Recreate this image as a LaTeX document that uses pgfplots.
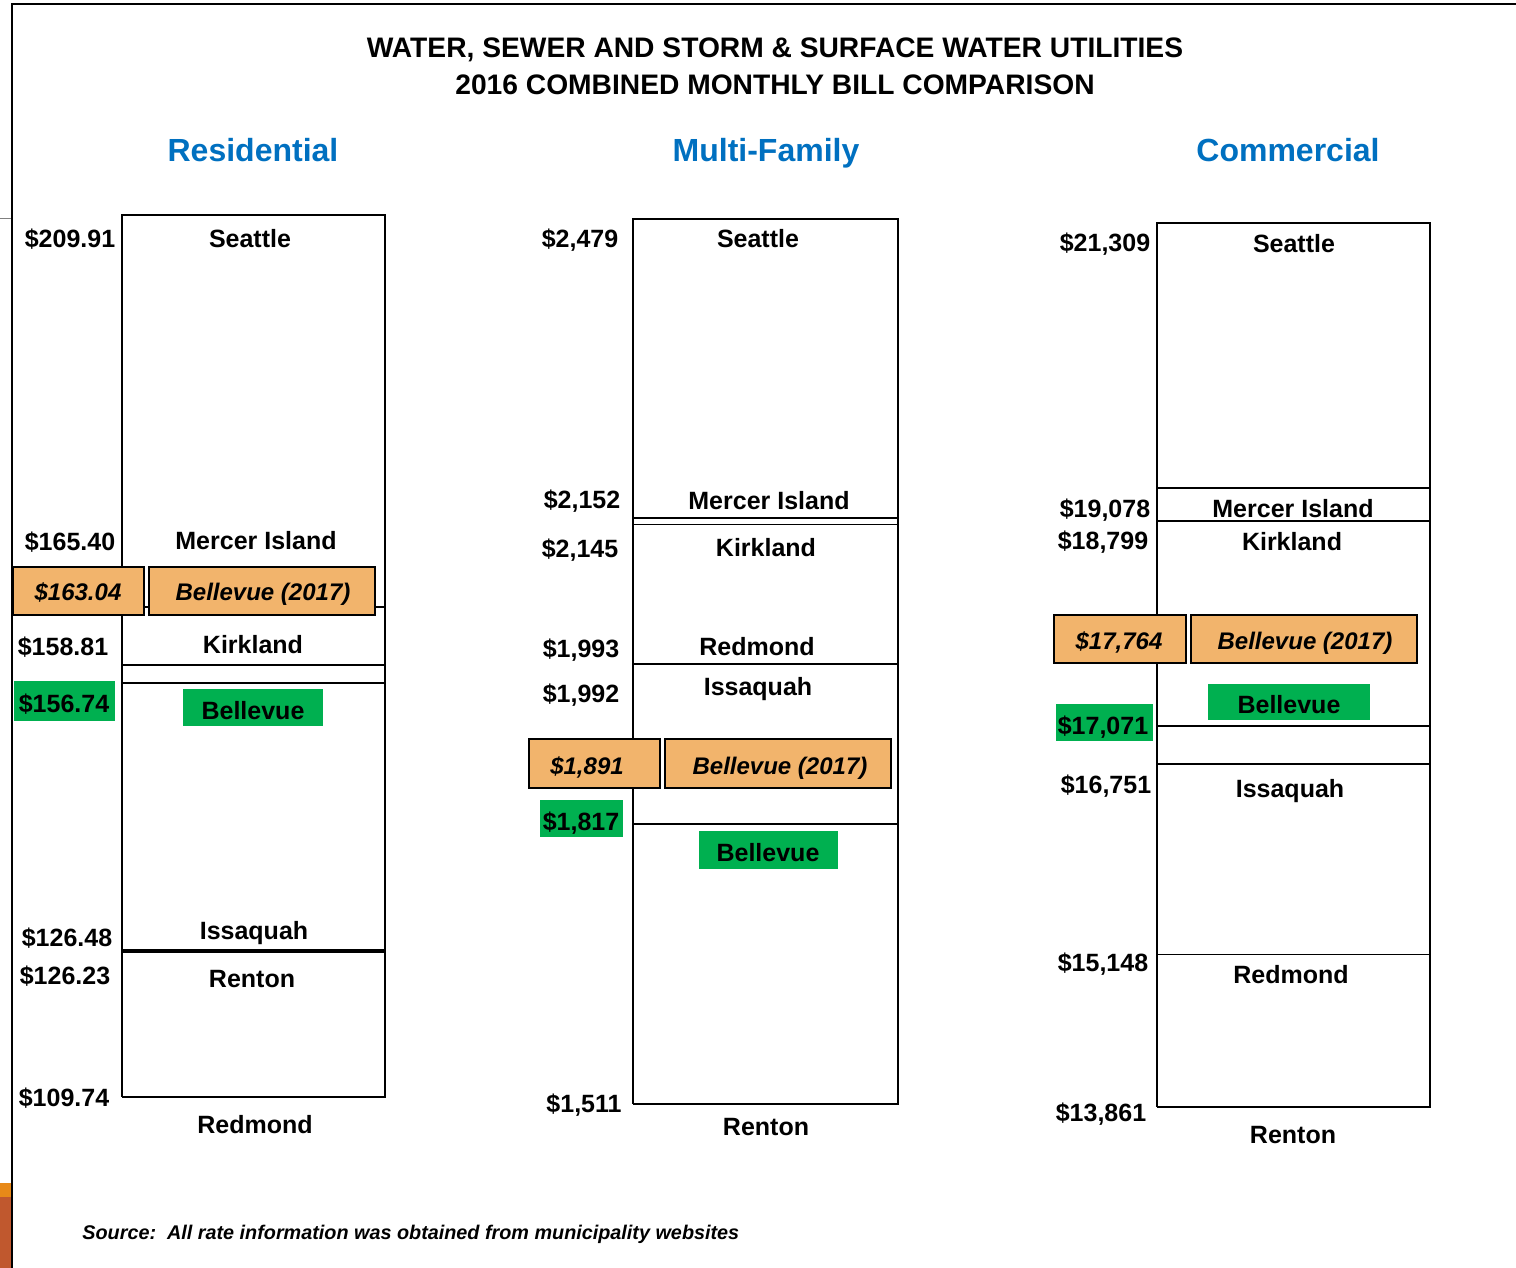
\documentclass[border=0pt]{standalone}
\usepackage{pgfplots}
\pgfplotsset{compat=1.18}
\usepackage{fontspec}
\setmainfont{Liberation Sans}
\definecolor{tblue}{RGB}{0,112,192}
\definecolor{torange}{RGB}{242,180,108}
\definecolor{tgreen}{RGB}{0,176,80}
\definecolor{sorange}{RGB}{232,137,24}
\definecolor{sbrown}{RGB}{192,88,46}
\pgfplotsset{colbox/.style={scale only axis, hide axis, clip=false, xmin=0, xmax=1, anchor=north west},
  bx/.style={black, line width=0.75pt, mark=none}}
\begin{document}
\begin{tikzpicture}[x=0.5pt,y=-0.5pt,
  lab/.style={font=\fontsize{12.5}{14}\selectfont\bfseries, inner sep=0pt, text height=0.716em, text depth=0pt, yshift=-1pt},
  olab/.style={font=\fontsize{12}{14}\selectfont\bfseries\itshape, inner sep=0pt, text height=0.716em, text depth=0pt, yshift=-1pt},
  ttl/.style={font=\fontsize{14.1}{16}\selectfont\bfseries, inner sep=0pt, text height=0.716em, text depth=0pt, yshift=-1.5pt},
  sub/.style={font=\fontsize{16}{18}\selectfont\bfseries, text=tblue, inner sep=0pt, text height=0.716em, text depth=0pt, yshift=-2pt},
  obox/.style={fill=torange, draw=black, line width=0.9pt},
  gbox/.style={fill=tgreen}]
\path[use as bounding box] (0,0) rectangle (1516,1268);
% slide frame artefacts
\fill[sorange] (0,1183) rectangle (12,1197);
\fill[sbrown] (0,1197) rectangle (12,1268);
\draw[gray, line width=0.4pt] (0,218) -- (13,218);
\draw[black, line width=1pt] (12,1268) -- (12,4) -- (1516,4);

% titles
\node[ttl] at (775,47) {WATER, SEWER AND STORM \& SURFACE WATER UTILITIES};
\node[ttl] at (775,84) {2016 COMBINED MONTHLY BILL COMPARISON};
\node[sub] at (253,150) {Residential};
\node[sub] at (766,150) {Multi-Family};
\node[sub] at (1288,150) {Commercial};

% Residential
\begin{axis}[colbox, at={(61pt,-107.5pt)}, width=131.5pt, height=441pt, ymin=109.74, ymax=209.91]
\addplot[bx] coordinates {(0,109.74) (1,109.74) (1,209.91) (0,209.91) (0,109.74)};
\addplot[bx] coordinates {(0,165.40) (1,165.40)};
\addplot[bx] coordinates {(0,158.81) (1,158.81)};
\addplot[bx] coordinates {(0,156.74) (1,156.74)};
\addplot[bx, line width=1.1pt] coordinates {(0,126.48) (1,126.48)};
\addplot[bx, line width=1.1pt] coordinates {(0,126.23) (1,126.23)};
\end{axis}
% Multi-Family
\begin{axis}[colbox, at={(316.5pt,-109.5pt)}, width=132.5pt, height=442.5pt, ymin=1511, ymax=2479]
\addplot[bx] coordinates {(0,1511) (1,1511) (1,2479) (0,2479) (0,1511)};
\addplot[bx] coordinates {(0,2152) (1,2152)};
\addplot[bx] coordinates {(0,2145) (1,2145)};
\addplot[bx] coordinates {(0,1993) (1,1993)};
\addplot[bx] coordinates {(0,1992) (1,1992)};
\addplot[bx] coordinates {(0,1817) (1,1817)};
\end{axis}
% Commercial
\begin{axis}[colbox, at={(578.5pt,-111.5pt)}, width=136.5pt, height=442pt, ymin=13861, ymax=21309]
\addplot[bx] coordinates {(0,13861) (1,13861) (1,21309) (0,21309) (0,13861)};
\addplot[bx] coordinates {(0,19078) (1,19078)};
\addplot[bx] coordinates {(0,18799) (1,18799)};
\addplot[bx] coordinates {(0,17071) (1,17071)};
\addplot[bx] coordinates {(0,16751) (1,16751)};
\addplot[bx] coordinates {(0,15148) (1,15148)};
\end{axis}

% Residential labels
\node[lab] at (70,238) {\$209.91};
\node[lab] at (70,541) {\$165.40};
\node[lab] at (63,646) {\$158.81};
\node[lab] at (67,937) {\$126.48};
\node[lab] at (65,975) {\$126.23};
\node[lab] at (64,1097) {\$109.74};
\node[lab] at (250,238) {Seattle};
\node[lab] at (256,540) {Mercer Island};
\node[lab] at (253,644) {Kirkland};
\node[lab] at (254,930) {Issaquah};
\node[lab] at (252,978) {Renton};
\node[lab] at (255,1124) {Redmond};
\draw[obox] (13,567) rectangle (144,615);
\draw[obox] (149,567) rectangle (375,615);
\node[olab] at (78,591) {\$163.04};
\node[olab] at (263,591) {Bellevue (2017)};
\fill[gbox] (14,681) rectangle (115,721);
\fill[gbox] (183,689) rectangle (323,726);
\node[lab] at (64,703) {\$156.74};
\node[lab] at (253,710) {Bellevue};

% Multi-Family labels
\node[lab] at (580,238) {\$2,479};
\node[lab] at (582,499) {\$2,152};
\node[lab] at (580,548) {\$2,145};
\node[lab] at (581,648) {\$1,993};
\node[lab] at (581,693) {\$1,992};
\node[lab] at (584,1103) {\$1,511};
\node[lab] at (758,238) {Seattle};
\node[lab] at (769,500) {Mercer Island};
\node[lab] at (766,547) {Kirkland};
\node[lab] at (757,646) {Redmond};
\node[lab] at (758,686) {Issaquah};
\node[lab] at (766,1126) {Renton};
\draw[obox] (529,739) rectangle (660,788);
\draw[obox] (665,739) rectangle (891,788);
\node[olab] at (587,765) {\$1,891};
\node[olab] at (780,765) {Bellevue (2017)};
\fill[gbox] (540,800) rectangle (623,837);
\fill[gbox] (699,831) rectangle (838,869);
\node[lab] at (581,821) {\$1,817};
\node[lab] at (768,852) {Bellevue};

% Commercial labels
\node[lab] at (1105,242) {\$21,309};
\node[lab] at (1105,508) {\$19,078};
\node[lab] at (1103,540) {\$18,799};
\node[lab] at (1106,784) {\$16,751};
\node[lab] at (1103,962) {\$15,148};
\node[lab] at (1101,1112) {\$13,861};
\node[lab] at (1294,243) {Seattle};
\node[lab] at (1293,508) {Mercer Island};
\node[lab] at (1292,541) {Kirkland};
\node[lab] at (1290,788) {Issaquah};
\node[lab] at (1291,974) {Redmond};
\node[lab] at (1293,1134) {Renton};
\draw[obox] (1054,615) rectangle (1186,663);
\draw[obox] (1191,615) rectangle (1417,663);
\node[olab] at (1119,640) {\$17,764};
\node[olab] at (1305,640) {Bellevue (2017)};
\fill[gbox] (1056,704) rectangle (1153,741);
\fill[gbox] (1208,684) rectangle (1370,720);
\node[lab] at (1103,725) {\$17,071};
\node[lab] at (1289,704) {Bellevue};

% source
\node[font=\fontsize{9.9}{12}\selectfont\bfseries\itshape, anchor=west, inner sep=0pt, text height=0.716em, text depth=0pt, yshift=-0.5pt] at (82,1231) {Source:\ \ All rate information was obtained from municipality websites};
\end{tikzpicture}
\end{document}
